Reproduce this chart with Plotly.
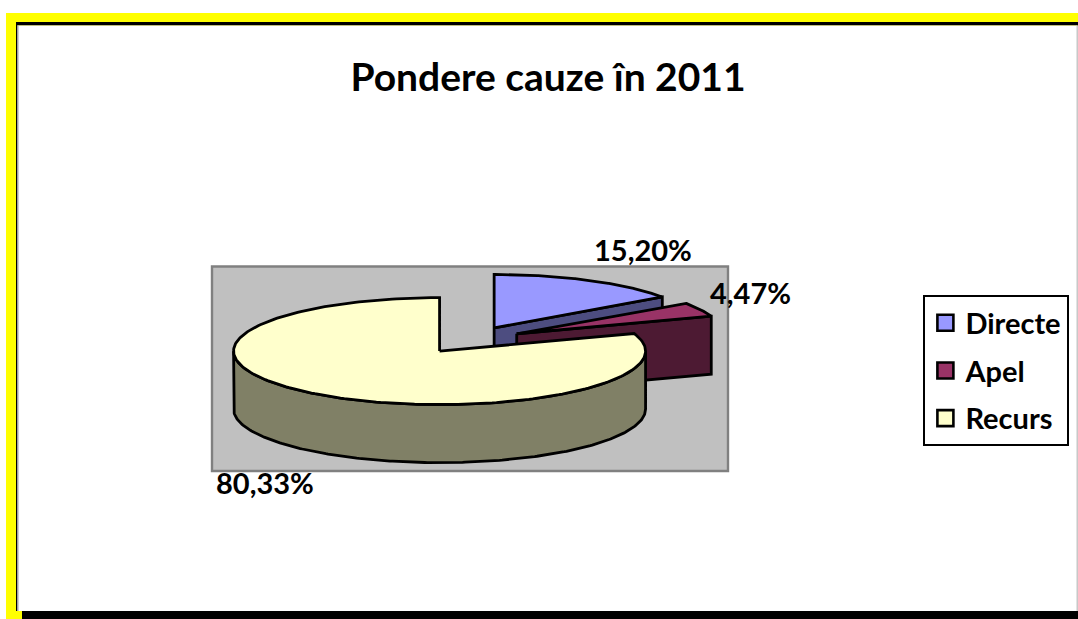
import numpy as np
import plotly.graph_objects as go

categories = ["Directe", "Apel", "Recurs"]
values = [15.20, 4.47, 80.33]
top_colors = ["#9999FF", "#993366", "#FFFFCC"]
side_colors = ["#4D4D80", "#4D1A33", "#808066"]
title_text = "Pondere cauze în 2011"

# projection of the tilted pie, in page pixels
WIDTH, HEIGHT = 1078, 619
CX, CY, RX, RY, DEPTH, EXPLODE = 470.0, 340.0, 206.0, 53.5, 58.0, 0.255
FONT = "Lato, Carlito, Arial, sans-serif"
EDGE = dict(color="black", width=2.8)


def pt(cx, cy, a):
    return cx + RX * np.sin(a), cy - RY * np.cos(a)


fig = go.Figure()
fractions = np.array(values) / sum(values)
edges = np.concatenate([[0], np.cumsum(fractions)]) * 2 * np.pi

for i, name in enumerate(categories):
    a0, a1 = edges[i], edges[i + 1]
    mid = (a0 + a1) / 2
    cx, cy = CX + EXPLODE * RX * np.sin(mid), CY - EXPLODE * RY * np.cos(mid)
    arc = np.linspace(a0, a1, 240)
    ax, ay = pt(cx, cy, arc)

    # radial wall at the end of the slice, seen when it faces the viewer
    if a1 < np.pi:
        ex, ey = pt(cx, cy, a1)
        fig.add_trace(go.Scatter(
            x=[cx, ex, ex, cx, cx], y=[cy, ey, ey + DEPTH, cy + DEPTH, cy],
            mode="lines", fill="toself", fillcolor=side_colors[i], line=EDGE,
            showlegend=False, hoverinfo="skip"))

    # outer wall: the part of the rim on the near half of the ellipse
    lo, hi = max(a0, np.pi / 2), min(a1, 3 * np.pi / 2)
    if hi > lo:
        near = np.linspace(lo, hi, 240)
        nx, ny = pt(cx, cy, near)
        fig.add_trace(go.Scatter(
            x=np.concatenate([nx, nx[::-1], nx[:1]]),
            y=np.concatenate([ny, ny[::-1] + DEPTH, ny[:1]]),
            mode="lines", fill="toself", fillcolor=side_colors[i], line=EDGE,
            showlegend=False, hoverinfo="skip"))

    # top face
    fig.add_trace(go.Scatter(
        x=np.concatenate([[cx], ax, [cx]]), y=np.concatenate([[cy], ay, [cy]]),
        mode="lines", fill="toself", fillcolor=top_colors[i], line=EDGE,
        showlegend=False, hoverinfo="skip"))

for name, col in zip(categories, top_colors):
    fig.add_trace(go.Scatter(
        x=[None], y=[None], mode="markers", name=name, legendgroup=name,
        marker=dict(symbol="square", size=19, color=col, line=dict(color="black", width=2.6))))


def rect(x0, y0, x1, y1, fill, line=None, width=0):
    return dict(type="rect", xref="x", yref="y", x0=x0, y0=y0, x1=x1, y1=y1,
                fillcolor=fill, layer="below",
                line=dict(color=line or fill, width=width))


shapes = [
    rect(6, 13, WIDTH, HEIGHT, "#FFFF00"),
    rect(16, 22, WIDTH, 25.5, "#000000"),
    rect(16, 25, 17.5, 611, "#000000"),
    rect(22, 611, WIDTH, HEIGHT, "#000000"),
    rect(17.5, 25.5, 1077, 611, "#FFFFFF"),
    rect(17, 25.5, 18.5, 611, "#A0A0A0"),
    rect(1076.5, 25.5, WIDTH, 611, "#C8C8C8"),
    rect(212, 266.5, 728, 471, "#C0C0C0", "#808080", 2.4),
]

label_positions = [(643, 249), (750, 292), (265, 482)]
annotations = [
    dict(x=x, y=y, xref="x", yref="y", text="<b>" + f"{v:.2f}%".replace(".", ",") + "</b>",
         showarrow=False, xanchor="center", yanchor="middle",
         font=dict(family=FONT, size=29, color="black"))
    for (x, y), v in zip(label_positions, values)
]

fig.update_layout(
    width=WIDTH, height=HEIGHT, margin=dict(l=0, r=0, t=0, b=0),
    paper_bgcolor="white", plot_bgcolor="rgba(0,0,0,0)",
    xaxis=dict(range=[0, WIDTH], visible=False, fixedrange=True),
    yaxis=dict(range=[HEIGHT, 0], visible=False, fixedrange=True),
    shapes=shapes, annotations=annotations,
    title=dict(text=f"<b>{title_text}</b>", x=548 / WIDTH, y=1 - 77 / HEIGHT,
               xanchor="center", yanchor="middle",
               font=dict(family=FONT, size=39, color="black")),
    legend=dict(x=923 / WIDTH, y=1 - 295 / HEIGHT, xanchor="left", yanchor="top",
                bgcolor="white", bordercolor="black", borderwidth=2.4,
                tracegroupgap=7, font=dict(family=FONT, size=29, color="black", weight="bold")),
)

fig.write_html("out.html", config=dict(displayModeBar=False),
               post_script="document.body.style.margin='0';document.body.style.overflow='hidden';")
